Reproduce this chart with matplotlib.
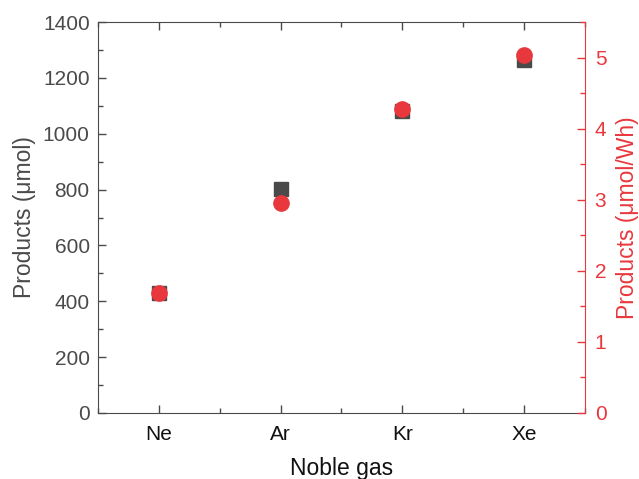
import matplotlib
matplotlib.use("Agg")
import matplotlib.pyplot as plt
from matplotlib.ticker import MultipleLocator

plt.rcParams["font.family"] = ["Liberation Sans", "DejaVu Sans"]

gases = ["Ne", "Ar", "Kr", "Xe"]
products_umol = [430, 803, 1082, 1265]
products_umol_wh = [1.69, 2.95, 4.27, 5.03]

GRAY = "#4a4a4a"
RED = "#e8383d"

fig = plt.figure(figsize=(6.39, 4.79), dpi=100)
ax = fig.add_axes([0.1534, 0.1378, 0.762, 0.8162])
ax2 = ax.twinx()

x = list(range(len(gases)))
ax.plot(x, products_umol, "s", color=GRAY, markersize=9.5, zorder=3)
ax2.plot(x, products_umol_wh, "o", color=RED, markersize=11, zorder=4)

ax.set_xlim(-0.5, 3.5)
ax.set_ylim(0, 1400)
ax2.set_ylim(0, 5.5)
ax.set_xticks(x)
ax.set_xticklabels(gases)
ax.xaxis.set_minor_locator(MultipleLocator(0.5))
ax.yaxis.set_major_locator(MultipleLocator(200))
ax.yaxis.set_minor_locator(MultipleLocator(100))
ax2.yaxis.set_major_locator(MultipleLocator(1))
ax2.yaxis.set_minor_locator(MultipleLocator(0.5))

ax.tick_params(axis="both", which="both", direction="in", top=True, right=False,
               colors=GRAY, labelsize=15, width=1)
ax.tick_params(axis="x", labelcolor="#111111", pad=9)
ax.tick_params(axis="y", pad=6)
ax.tick_params(which="major", length=6)
ax.tick_params(which="minor", length=3.5)
ax2.tick_params(axis="y", which="both", direction="in", colors=RED, labelsize=15,
                width=1, pad=7)
ax2.tick_params(which="major", length=6)
ax2.tick_params(which="minor", length=3.5)

for s in ["top", "bottom", "left"]:
    ax.spines[s].set_color(GRAY)
    ax2.spines[s].set_visible(False)
ax.spines["right"].set_visible(False)
ax2.spines["right"].set_color(RED)

ax.set_xlabel("Noble gas", fontsize=16.5, color="#111111", labelpad=9)
ax.set_ylabel("Products (\u03bcmol)", fontsize=16.5, color=GRAY, labelpad=5)
ax2.set_ylabel("Products (\u03bcmol/Wh)", fontsize=16.5, color=RED, labelpad=7)

fig.savefig("out.png", dpi=100)
